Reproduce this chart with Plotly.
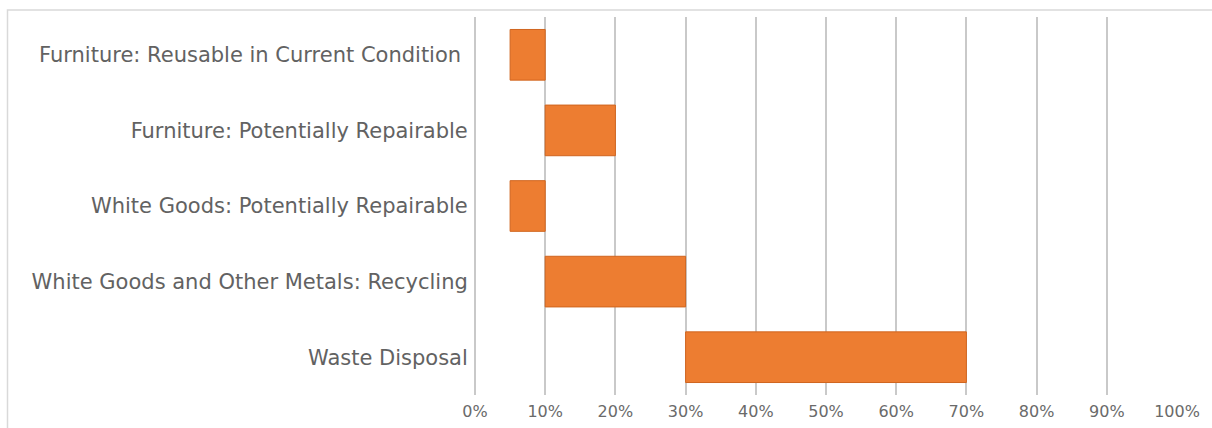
import plotly.graph_objects as go

categories = [
    "Furniture: Reusable in Current Condition\u00a0",
    "Furniture: Potentially Repairable",
    "White Goods: Potentially Repairable",
    "White Goods and Other Metals: Recycling",
    "Waste Disposal",
]
start_pct = [5, 10, 5, 10, 30]
end_pct = [10, 20, 10, 30, 70]
tick_vals = [0, 10, 20, 30, 40, 50, 60, 70, 80, 90, 100]
tick_text = [f"{v}%" for v in tick_vals]

widths = [e - s for s, e in zip(start_pct, end_pct)]

fig = go.Figure()
fig.add_trace(go.Bar(
    y=categories,
    x=widths,
    base=start_pct,
    orientation="h",
    marker=dict(color="#ED7D31", line=dict(color="#D0651F", width=1)),
    width=0.67,
    hoverinfo="skip",
))

W, H = 1212, 428
L, R, T, B = 475, 35, 17, 33
pw, ph = W - L - R, H - T - B

def px_x(p):
    return (p - L) / pw

def px_y(p):
    return (H - B - p) / ph

fig.update_layout(
    width=W, height=H,
    margin=dict(l=L, r=R, t=T, b=B, pad=0),
    paper_bgcolor="white", plot_bgcolor="white",
    showlegend=False,
    font=dict(family="DejaVu Sans", size=18, color="#5f5f5f"),
    xaxis=dict(
        range=[0, 100], tickvals=tick_vals, ticktext=tick_text,
        showgrid=True, gridcolor="#c9c9c9", gridwidth=2,
        zeroline=True, zerolinecolor="#c9c9c9", zerolinewidth=2,
        showline=False, ticks="outside", ticklen=2, tickcolor="rgba(0,0,0,0)",
        fixedrange=True, automargin=False,
        tickfont=dict(size=16, color="#6a6a6a"),
    ),
    yaxis=dict(
        categoryorder="array", categoryarray=categories,
        autorange="reversed", showgrid=False, zeroline=False,
        showline=False, ticks="outside", ticklen=2, tickcolor="rgba(0,0,0,0)",
        automargin=False,
        tickfont=dict(size=21, color="#626262"),
    ),
    bargap=0.33,
    shapes=[dict(
        type="rect", xref="paper", yref="paper",
        x0=px_x(7.5), x1=px_x(1250), y0=px_y(470), y1=px_y(10),
        line=dict(color="#d9d9d9", width=1.5), fillcolor="rgba(0,0,0,0)",
        layer="below",
    )],
)

fig.write_html("out.html")
